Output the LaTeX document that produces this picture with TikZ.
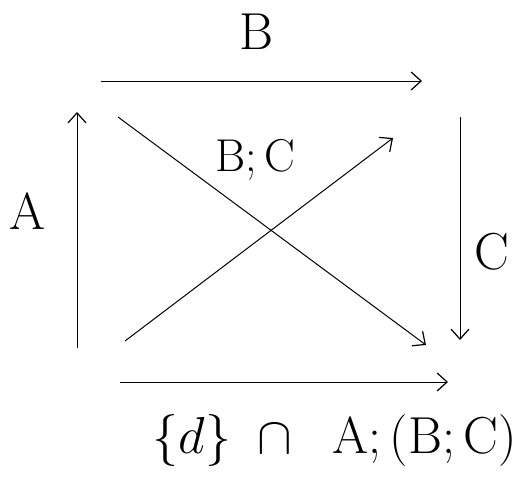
\RequirePackage{fix-cm}
\documentclass[tikz,border=0pt]{standalone}
\usetikzlibrary{arrows.meta}
\begin{document}
\begin{tikzpicture}[x=1pt,y=-1pt,
  arr/.style={line width=1pt,-{Straight Barb[length=10pt,width=18pt,line width=1.2pt]}},
  lbl/.style={inner sep=0pt,font=\fontsize{52}{56}\selectfont}]
\useasboundingbox (0,0) rectangle (530,488);
% arrow ends
\coordinate (ts) at (101,81);  \coordinate (te) at (422,81);
\coordinate (ls) at (77,348);  \coordinate (le) at (77,112);
\coordinate (rs) at (460,117); \coordinate (re) at (460,340);
\coordinate (bs) at (120,382); \coordinate (be) at (448,382);
\coordinate (ds) at (118,117); \coordinate (de) at (426,345);
\coordinate (us) at (125,341); \coordinate (ue) at (393,138);
\draw[arr] (ts) -- (te);
\draw[arr] (ls) -- (le);
\draw[arr] (rs) -- (re);
\draw[arr] (bs) -- (be);
\draw[arr] (ds) -- (de);
\draw[arr] (us) -- (ue);
\node[lbl] (lB) at (257,32) {$\mathrm{B}$};
\node[lbl,font=\fontsize{46}{50}\selectfont] (lBC) at (255,160) {$\mathrm{B};\mathrm{C}$};
\node[lbl] (lA) at (28,212) {$\mathrm{A}$};
\node[lbl] (lC) at (492,252) {$\mathrm{C}$};
\node[lbl] (lbot) at (335,440) {$\{d\}\;\cap\;\;\mathrm{A};(\mathrm{B};\mathrm{C})$};
\end{tikzpicture}
\end{document}
